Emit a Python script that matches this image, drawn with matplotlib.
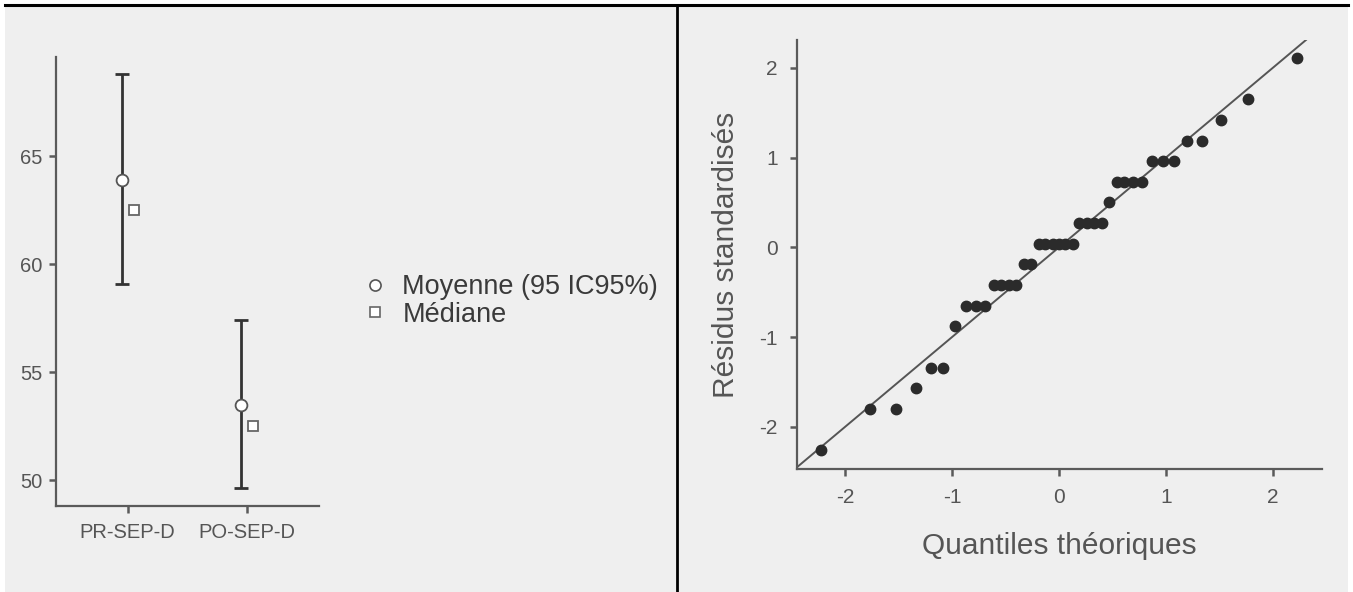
## plot.py - descriptives (mean / CI / median) next to a Q-Q plot of residuals

import matplotlib
matplotlib.use("Agg")
import matplotlib.pyplot as plt
from matplotlib.patches import Rectangle
from matplotlib.lines import Line2D

plt.rcParams['font.family'] = ['Liberation Sans', 'DejaVu Sans']
plt.rcParams['axes.unicode_minus'] = False

## DATA

groups = ['PR-SEP-D', 'PO-SEP-D']
means = [63.9, 53.5]
ci_low = [59.1, 49.65]
ci_high = [68.8, 57.4]
medians = [62.5, 52.5]

left_yticks = [50, 55, 60, 65]

# theoretical quantiles / standardized residuals
qq_theo = [-2.23, -1.77, -1.52, -1.34, -1.20, -1.08, -0.97, -0.87, -0.78, -0.69,
           -0.61, -0.54, -0.47, -0.40, -0.33, -0.26, -0.19, -0.13, -0.06, 0.00,
           0.06, 0.13, 0.19, 0.26, 0.33, 0.40, 0.47, 0.54, 0.61, 0.69,
           0.78, 0.87, 0.97, 1.08, 1.20, 1.34, 1.52, 1.77, 2.23]
qq_resid = [-2.26, -1.80, -1.80, -1.57, -1.34, -1.34, -0.88, -0.65, -0.65, -0.65,
            -0.42, -0.42, -0.42, -0.42, -0.19, -0.19, 0.04, 0.04, 0.04, 0.04,
            0.04, 0.04, 0.27, 0.27, 0.27, 0.27, 0.50, 0.73, 0.73, 0.73,
            0.73, 0.96, 0.96, 0.96, 1.19, 1.19, 1.42, 1.65, 2.11]

right_ticks = [-2, -1, 0, 1, 2]

## STYLE

W, H = 1353, 592
bg = '#efefef'
axis_col = '#5a5a5a'
text_col = '#555555'

fig = plt.figure(figsize=(W / 100, H / 100), dpi=100)
fig.patch.set_facecolor('white')

# grey panel background + black frame lines
fig.patches.append(Rectangle((5 / W, 0), (1348 - 5) / W, 1 - 6 / H,
                             transform=fig.transFigure, facecolor=bg,
                             edgecolor='none', zorder=-10))
fig.lines.append(Line2D([5 / W, 1348 / W], [1 - 5 / H, 1 - 5 / H],
                        transform=fig.transFigure, color='black', lw=2.2))
fig.lines.append(Line2D([677 / W, 677 / W], [0, 1 - 5 / H],
                        transform=fig.transFigure, color='black', lw=2.0))


def style_axes(ax, tick_size, pad):
    ax.set_facecolor('none')
    for s in ['top', 'right']:
        ax.spines[s].set_visible(False)
    for s in ['left', 'bottom']:
        ax.spines[s].set_color(axis_col)
        ax.spines[s].set_linewidth(1.6)
    ax.tick_params(direction='out', length=5, width=1.8, color=axis_col,
                   labelcolor=text_col, labelsize=tick_size, pad=pad)


## LEFT: means with 95% CI and medians

ax1 = fig.add_axes([56 / W, 1 - 506 / H, (319 - 56) / W, (506 - 57) / H])
style_axes(ax1, 14.5, 5)

xpos = list(range(len(groups)))
ax1.errorbar([x - 0.05 for x in xpos], means,
             yerr=[[m - lo for m, lo in zip(means, ci_low)],
                   [hi - m for m, hi in zip(means, ci_high)]],
             fmt='none', ecolor='#333333', elinewidth=2.0, capsize=5,
             capthick=2.0, zorder=2)
ax1.plot([x - 0.05 for x in xpos], means, 'o', ms=8.5, mfc='white',
         mec='#555555', mew=1.3, zorder=3)
ax1.plot([x + 0.05 for x in xpos], medians, 's', ms=7.5, mfc='white',
         mec='#666666', mew=1.3, zorder=3)

ax1.set_xlim(-0.6, 1.6)
ax1.set_ylim(48.8, 69.6)
ax1.set_xticks(xpos)
ax1.set_xticklabels(groups)
ax1.set_yticks(left_yticks)
ax1.tick_params(axis='x', pad=7)

handles = [
    Line2D([], [], ls='none', marker='o', ms=8, mfc='white', mec='#555555', mew=1.2),
    Line2D([], [], ls='none', marker='s', ms=7, mfc='white', mec='#666666', mew=1.2),
]
fig.legend(handles, ['Moyenne (95 IC95%)', 'Médiane'], loc='center left',
           bbox_to_anchor=(351 / W, 1 - 301 / H), frameon=False,
           fontsize=19.5, labelcolor='#3a3a3a', handletextpad=0.6,
           handlelength=0.8, labelspacing=0.05, borderpad=0)

## RIGHT: normal Q-Q plot

ax2 = fig.add_axes([797 / W, 1 - 469 / H, (1322 - 797) / W, (469 - 40) / H])
style_axes(ax2, 15, 9)

ax2.axline((0, 0), slope=1, color='#555555', lw=1.4, zorder=2)
ax2.plot(qq_theo, qq_resid, 'o', ms=7.5, color='#2b2b2b', zorder=3)

ax2.set_xlim(-2.45, 2.46)
ax2.set_ylim(-2.47, 2.31)
ax2.set_xticks(right_ticks)
ax2.set_yticks(right_ticks)
ax2.set_xlabel('Quantiles théoriques', fontsize=21.5, color=text_col, labelpad=18)
ax2.set_ylabel('Résidus standardisés', fontsize=21.5, color=text_col, labelpad=14)

plt.savefig('out.png', dpi=100)
plt.close()
